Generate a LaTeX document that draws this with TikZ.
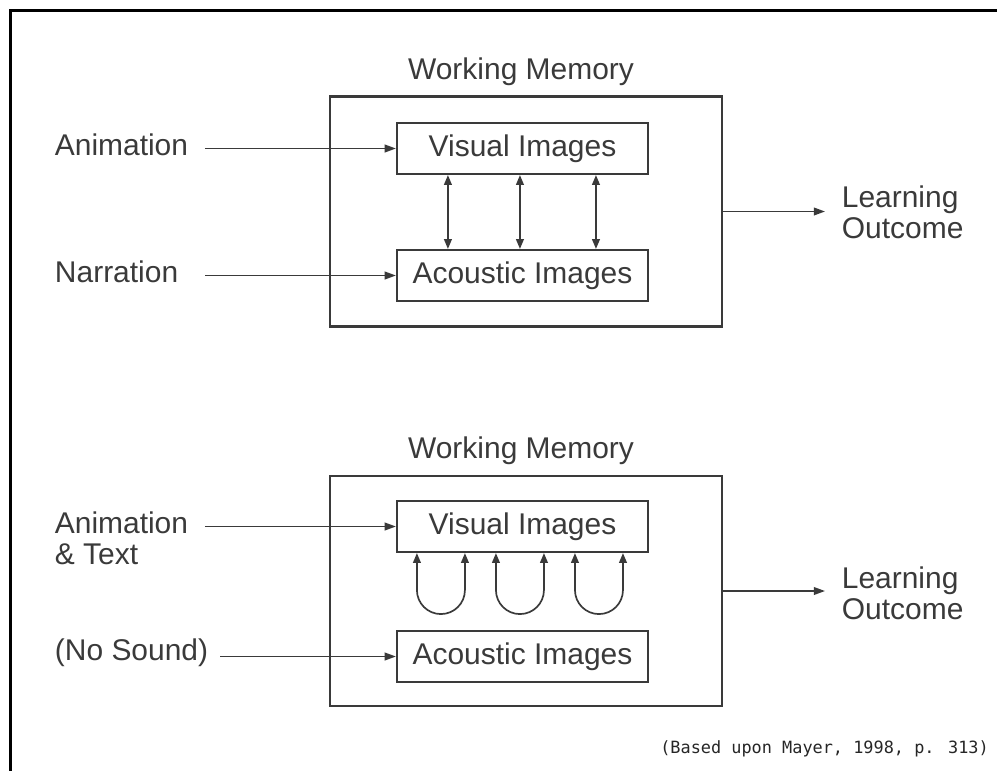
\documentclass[tikz,border=0pt]{standalone}
\usepackage{fontspec}
\setmainfont{Liberation Sans}
\newfontfamily\citefont{DejaVu Sans Mono}
\usetikzlibrary{arrows.meta, positioning}
\definecolor{ink}{HTML}{3A3A3A}

\begin{document}
\begin{tikzpicture}[x=0.025cm, y=-0.025cm, line join=miter,
  font=\fontsize{21.3}{22}\selectfont, text=ink,
  memory/.style={draw=ink, line width=1.5pt, minimum width=9.8cm, minimum height=5.75cm},
  box/.style={draw=ink, line width=1.5pt, minimum width=6.275cm, minimum height=1.275cm, inner sep=0pt},
  feed/.style={inner sep=0pt, outer xsep=12pt, align=left},
  wmtitle/.style={inner sep=0pt},
  arr/.style={draw=ink, line width=1.2pt, -{Triangle[length=8pt, width=5.5pt]}},
  dbl/.style={draw=ink, line width=1.2pt, {Triangle[length=7pt, width=5.5pt]}-{Triangle[length=7pt, width=5.5pt]}}]
\useasboundingbox (0,0) rectangle (997,770);
% Frame
\draw[line width=2.1pt, black] (10.5,790) -- (10.5,10.5) -- (1010,10.5);

% Upper memory
\node[memory] (mem1) at (526,211.5) {};
\node[box] (vis1) at (522.5,148.5) {Visual Images};
\node[box] (aco1) at (522.5,275.5) {Acoustic Images};
\node[wmtitle, above=0.245cm of mem1, xshift=-0.125cm] (wm1) {Working Memory};
\node[feed, anchor=base west] (anim1) at (38,155) {Animation};
\node[feed, outer xsep=19.2pt, anchor=base west] (narr1) at (28,282) {Narration};
\node[feed, anchor=west] (learn1) at (825,212) {Learning\\Outcome};

% Lower memory
\node[memory] (mem2) at (526,591) {};
\node[box] (vis2) at (522.5,526.5) {Visual Images};
\node[box] (aco2) at (522.5,656.5) {Acoustic Images};
\node[wmtitle, above=0.245cm of mem2, xshift=-0.125cm] (wm2) {Working Memory};
\node[feed, anchor=north west] (anim2) at (38,511.5) {Animation\\\& Text};
\node[feed, outer xsep=8.5pt, anchor=base west] (nos2) at (43,660) {(No Sound)};
\node[feed, anchor=west] (learn2) at (825,593) {Learning\\Outcome};

% Arrows
\draw[arr] (anim1.east |- vis1.west) -- (vis1.west);
\draw[arr] (narr1.east |- aco1.west) -- (aco1.west);
\draw[arr] (mem1.east) -- (mem1.east -| learn1.west);
\foreach \dx in {1.3,3.1,5.0}
  \draw[dbl] ([xshift=\dx cm]vis1.south west) -- ([xshift=\dx cm]aco1.north west);

\draw[arr] (anim2.east |- vis2.west) -- (vis2.west);
\draw[arr] (nos2.east |- aco2.west) -- (aco2.west);
\draw[arr] (mem2.east) -- (mem2.east -| learn2.west);
\foreach \dx in {0.525,2.5,4.475}
  \draw[dbl] ([xshift=\dx cm]vis2.south west) -- ++(0,37)
    arc[start angle=180, end angle=360, radius=0.6cm] -- ++(0,-37);

% Source
\node[anchor=base west, inner sep=0pt, text=black!85,
  font=\citefont\fontsize{12}{14}\selectfont] (cite) at (660,753) {(Based upon Mayer, 1998, p. 313)};
\end{tikzpicture}
\end{document}
